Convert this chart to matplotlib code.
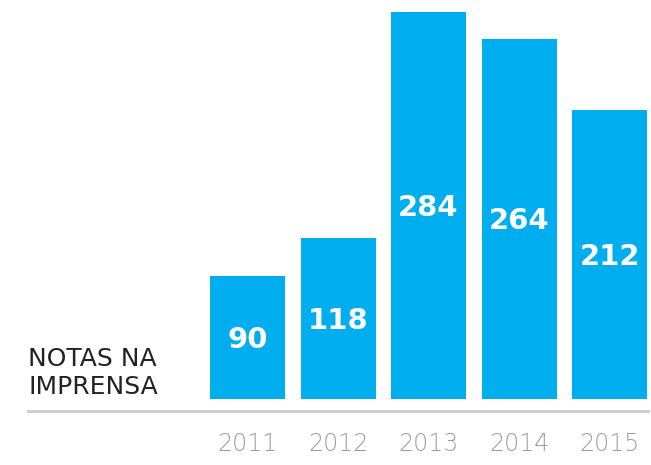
import matplotlib
matplotlib.use("Agg")
import matplotlib.pyplot as plt
from matplotlib.lines import Line2D

years = ["2011", "2012", "2013", "2014", "2015"]
values = [90, 118, 284, 264, 212]
title_lines = ["NOTAS NA", "IMPRENSA"]

W, H = 651, 465
fig = plt.figure(figsize=(W / 100, H / 100), dpi=100)
ax = fig.add_axes([0, 0, 1, 1])

spacing = 90.5
x0 = 247.5
ppu = 387 / 284.0
base = 399
ax.set_xlim(-x0 / spacing, (W - x0) / spacing)
ax.set_ylim(-(H - base) / ppu, base / ppu)
ax.axis("off")

xs = list(range(len(values)))
color = "#00AEEF"
ax.bar(xs, values, width=75 / spacing, color=color, zorder=2)

for x, v in zip(xs, values):
    ax.text(x, v / 2 - 1.5, str(v), ha="center", va="center", color="white",
            fontsize=21, fontweight="bold", family="DejaVu Sans")
    ax.text(x, -(444 - base) / ppu, years[x], ha="center", va="center",
            color="#9c9c9c", fontsize=17, fontweight="light", family="DejaVu Sans")

fig.add_artist(Line2D([28 / W, 648 / W], [1 - 411 / H, 1 - 411 / H],
                      transform=fig.transFigure, color="#d0d0d0", lw=2.2))

fig.text(28 / W, 1 - 358.5 / H, title_lines[0], ha="left", va="center", color="#222222",
         fontsize=18, fontweight="normal", family="DejaVu Sans")
fig.text(28 / W, 1 - 386.5 / H, title_lines[1], ha="left", va="center", color="#222222",
         fontsize=18, fontweight="normal", family="DejaVu Sans")

fig.savefig("out.png", dpi=100)
